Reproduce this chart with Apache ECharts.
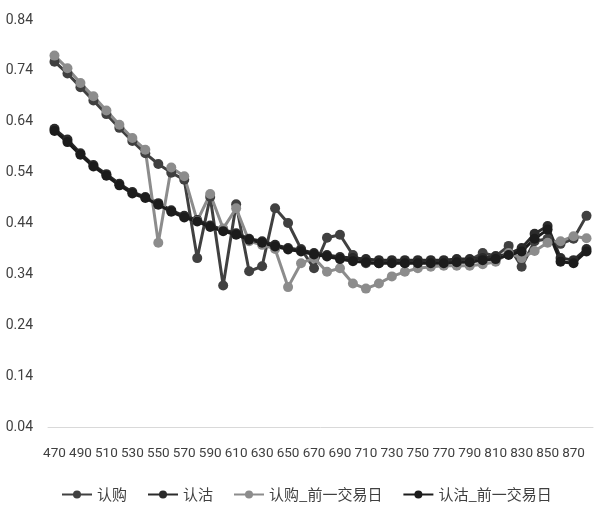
<!DOCTYPE html>
<html>
<head>
<meta charset="utf-8">
<title>认购认沽</title>
<script src="https://cdn.jsdelivr.net/npm/echarts@6/dist/echarts.min.js"></script>
<style>
  html, body { margin: 0; padding: 0; background: #fff; }
  #chart { width: 602px; height: 511px; }
</style>
</head>
<body>
<div id="chart"></div>
<script>
const strikes = [
  470, 480, 490, 500, 510, 520, 530, 540, 550, 560,
  570, 580, 590, 600, 610, 620, 630, 640, 650, 660,
  670, 680, 690, 700, 710, 720, 730, 740, 750, 760,
  770, 780, 790, 800, 810, 820, 830, 840, 850, 860,
  870, 880
];
const seriesNames = ['认购', '认沽', '认购_前一交易日', '认沽_前一交易日'];
const callToday = [
  0.758, 0.735, 0.708, 0.682, 0.655, 0.628, 0.602, 0.578, 0.557, 0.540,
  0.526, 0.372, 0.492, 0.318, 0.478, 0.346, 0.356, 0.470, 0.441, 0.390,
  0.352, 0.412, 0.418, 0.378, 0.362, 0.362, 0.365, 0.362, 0.365, 0.365,
  0.365, 0.368, 0.368, 0.382, 0.376, 0.396, 0.355, 0.405, 0.410, 0.400,
  0.410, 0.455
];
const putToday = [
  0.626, 0.605, 0.578, 0.555, 0.537, 0.518, 0.502, 0.492, 0.480, 0.466,
  0.455, 0.447, 0.436, 0.428, 0.421, 0.410, 0.405, 0.398, 0.392, 0.388,
  0.382, 0.378, 0.374, 0.372, 0.370, 0.368, 0.368, 0.368, 0.368, 0.368,
  0.368, 0.370, 0.370, 0.372, 0.375, 0.380, 0.392, 0.420, 0.435, 0.372,
  0.368, 0.390
];
const callPrev = [
  0.770, 0.745, 0.716, 0.690, 0.662, 0.634, 0.608, 0.585, 0.402, 0.550,
  0.533, 0.445, 0.498, 0.430, 0.470, 0.405, 0.398, 0.390, 0.315, 0.362,
  0.372, 0.345, 0.352, 0.322, 0.312, 0.322, 0.336, 0.345, 0.352, 0.355,
  0.357, 0.357, 0.357, 0.360, 0.365, 0.382, 0.372, 0.386, 0.402, 0.405,
  0.415, 0.411
];
const putPrev = [
  0.622, 0.600, 0.575, 0.552, 0.534, 0.515, 0.499, 0.490, 0.477, 0.463,
  0.452, 0.444, 0.433, 0.425, 0.418, 0.408, 0.402, 0.395, 0.389, 0.385,
  0.379, 0.375, 0.370, 0.366, 0.364, 0.362, 0.362, 0.362, 0.362, 0.362,
  0.362, 0.364, 0.364, 0.368, 0.370, 0.378, 0.385, 0.410, 0.428, 0.365,
  0.362, 0.385
];
const colors = ['#404040', '#2b2b2b', '#8c8c8c', '#1c1c1c'];
const datas = [callToday, putToday, callPrev, putPrev];

const chart = echarts.init(document.getElementById('chart'));

const series = datas.map((item, i) => ({
  name: seriesNames[i],
  type: 'line',
  data: item,
  symbol: 'circle',
  symbolSize: 10,
  showSymbol: true,
  showAllSymbol: true,
  lineStyle: { width: 3, color: colors[i] },
  itemStyle: { color: colors[i] },
  emphasis: { disabled: true }
}));

chart.setOption({
  animation: false,
  color: colors,
  grid: { left: 48, right: 9, top: 20, bottom: 84 },
  legend: {
    data: seriesNames,
    left: 56,
    top: 482,
    width: 560,
    itemWidth: 30,
    itemHeight: 10,
    itemGap: 20,
    textStyle: { color: '#404040', fontSize: 15, fontFamily: 'Noto Sans CJK SC' }
  },
  xAxis: {
    type: 'category',
    data: strikes,
    boundaryGap: true,
    axisLine: { show: true, lineStyle: { color: '#d9d9d9', width: 1 } },
    axisTick: { show: false },
    axisLabel: {
      interval: 1,
      margin: 20,
      color: '#404040',
      fontSize: 13.5,
      fontFamily: 'Roboto'
    },
    splitLine: { show: false }
  },
  yAxis: {
    type: 'value',
    min: 0.04,
    max: 0.84,
    interval: 0.1,
    axisLine: { show: false },
    axisTick: { show: false },
    splitLine: { show: false },
    axisLabel: {
      margin: 15,
      color: '#404040',
      fontSize: 14,
      fontFamily: 'Roboto',
      formatter: v => v.toFixed(2)
    }
  },
  series
});
</script>
</body>
</html>
